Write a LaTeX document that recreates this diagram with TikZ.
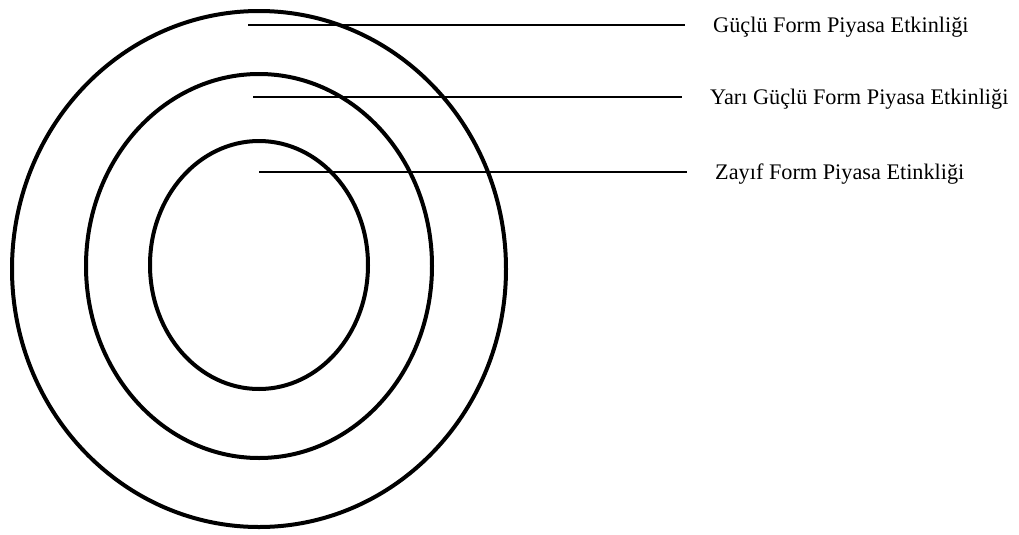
\documentclass[tikz,border=0pt]{standalone}
\usepackage{fontspec}
\setmainfont{Liberation Serif}
\tikzset{
  ring/.style={line width=1.2mm},
  tag/.style={anchor=west,inner ysep=0pt,inner xsep=8.4mm,font=\fontsize{19}{22}\selectfont},
  lead/.style={line width=0.4mm}
}
\begin{document}
\begin{tikzpicture}[x=0.3mm,y=-0.3mm]
    \useasboundingbox (0,0) rectangle (1019,534);
    % rings
    \foreach \rx/\ry/\cy in {247/258/269,173/192/266,109/124/265}
    {
    \draw[ring] (259,\cy) ellipse [x radius=\rx, y radius=\ry];
    }
    % labels
    \node[tag] (strong) at (685,27) {Güçlü Form Piyasa Etkinliği};
    \node[tag] (semi) at (682,99) {Yarı Güçlü Form Piyasa Etkinliği};
    \node[tag] (weak) at (687,174) {Zayıf Form Piyasa Etinkliği};
    \coordinate (s) at (248,25);
    \coordinate (m) at (253,97);
    \coordinate (w) at (259,172);
    \draw[lead] (s) -- (strong.west |- s);
    \draw[lead,line width=0.7mm] (m) -- (semi.west |- m);
    \draw[lead] (w) -- (weak.west |- w);
\end{tikzpicture}
\end{document}
